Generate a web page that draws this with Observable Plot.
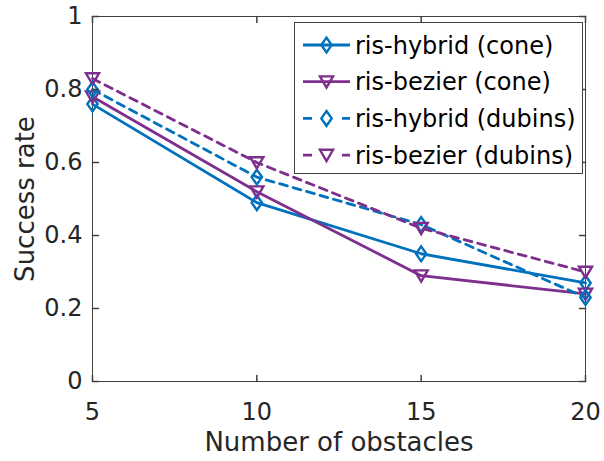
<!DOCTYPE html>
<html><head><meta charset="utf-8">
<script src="https://cdn.jsdelivr.net/npm/d3@7"></script>
<script src="https://cdn.jsdelivr.net/npm/@observablehq/plot@0.6"></script>
<style>
body{margin:0;background:#fff;}
#chart svg{font-family:"DejaVu Sans",sans-serif;overflow:visible;}
</style>
</head><body><div id="chart"></div>
<script>
const obstacles = [5, 10, 15, 20];
const hybridCone = [0.76, 0.49, 0.35, 0.27];
const bezierCone = [0.78, 0.52, 0.29, 0.24];
const hybridDubins = [0.80, 0.56, 0.43, 0.23];
const bezierDubins = [0.83, 0.60, 0.42, 0.30];
const seriesNames = ["ris-hybrid (cone)", "ris-bezier (cone)", "ris-hybrid (dubins)", "ris-bezier (dubins)"];
const seriesValues = [hybridCone, bezierCone, hybridDubins, bezierDubins];
const seriesColors = ["#0072BD", "#7E2F8E", "#0072BD", "#7E2F8E"];
const seriesDash = [null, null, "8,6", "8,6"];
const seriesMarker = ["diamond", "triangleDown", "diamond", "triangleDown"];
const xTicks = [5, 10, 15, 20];
const yTicks = [0, 0.2, 0.4, 0.6, 0.8, 1];
const yTickLabels = ["0", "0.2", "0.4", "0.6", "0.8", "1"];
const xLabel = "Number of obstacles";
const yLabel = "Success rate";

const textColor = "#262626";
const axisColor = "#404040";

// custom marker shapes (MATLAB-like)
const symbols = {
  diamond: {draw(ctx, size) {
    const h = Math.sqrt(size) * 0.95, w = h * 0.7;
    ctx.moveTo(0, -h); ctx.lineTo(w, 0); ctx.lineTo(0, h); ctx.lineTo(-w, 0); ctx.closePath();
  }},
  triangleDown: {draw(ctx, size) {
    const s = Math.sqrt(size) * 0.8;
    ctx.moveTo(-s * 1.05, -s * 0.85); ctx.lineTo(s * 1.05, -s * 0.85); ctx.lineTo(0, s * 0.95); ctx.closePath();
  }}
};

const rows = [];
seriesNames.forEach((name, si) => {
  obstacles.forEach((x, i) => rows.push({series: name, si, x, y: seriesValues[si][i]}));
});

const tickShape = {draw(ctx, l) { ctx.moveTo(0, 0); ctx.lineTo(0, -l); }};
const lineW = 2.8, markW = 2.4, markR = 4.4;

const marks = [];
seriesNames.forEach((name, si) => {
  const d = rows.filter(r => r.si === si);
  marks.push(Plot.line(d, {x: "x", y: "y", stroke: seriesColors[si], strokeWidth: lineW,
    strokeDasharray: seriesDash[si], strokeLinejoin: "round"}));
  marks.push(Plot.dot(d, {x: "x", y: "y", r: markR, symbol: symbols[seriesMarker[si]],
    stroke: seriesColors[si], strokeWidth: markW, fill: "none"}));
});

const chart = Plot.plot({
  width: 604, height: 461,
  marginLeft: 92, marginRight: 19, marginTop: 16, marginBottom: 80,
  style: {fontFamily: "DejaVu Sans", color: textColor, background: "#fff"},
  x: {domain: [5, 20]},
  y: {domain: [0, 1]},
  marks: [
    Plot.frame({stroke: axisColor, strokeWidth: 1}),
    ...marks,
    Plot.vector(xTicks, {x: d => d, frameAnchor: "bottom", length: 6, rotate: 0, anchor: "start", shape: tickShape, stroke: axisColor}),
    Plot.vector(xTicks, {x: d => d, frameAnchor: "top", length: 6, rotate: 180, anchor: "start", shape: tickShape, stroke: axisColor}),
    Plot.vector(yTicks, {y: d => d, frameAnchor: "left", length: 6, rotate: 90, anchor: "start", shape: tickShape, stroke: axisColor}),
    Plot.vector(yTicks, {y: d => d, frameAnchor: "right", length: 6, rotate: -90, anchor: "start", shape: tickShape, stroke: axisColor}),
    Plot.axisX({ticks: xTicks, tickSize: 0, tickPadding: 21, fontSize: 24, label: null, tickFormat: d => String(d), fill: textColor}),
    Plot.axisY({ticks: yTicks, tickSize: 0, tickPadding: 10, fontSize: 24, label: null,
      tickFormat: d => yTickLabels[yTicks.indexOf(d)], fill: textColor}),
    Plot.text([xLabel], {text: d => d, frameAnchor: "bottom", textAnchor: "middle", lineAnchor: "top", dy: 51, fontSize: 26, fill: textColor}),
    Plot.text([yLabel], {text: d => d, frameAnchor: "left", textAnchor: "middle", lineAnchor: "top", rotate: -90, dx: -77, fontSize: 26, fill: textColor})
  ]
});
document.getElementById("chart").appendChild(chart);

// legend (inside the axes, top-right, MATLAB style)
const svg = d3.select(chart);
const lg = svg.append("g").attr("class", "legend").attr("text-anchor", "start");
const box = {x: 294.5, y: 22.5, w: 288, h: 151};
lg.append("rect").attr("x", box.x).attr("y", box.y).attr("width", box.w).attr("height", box.h)
  .attr("fill", "#fff").attr("stroke", axisColor).attr("stroke-width", 1);
const rowY0 = 45, rowStep = 36.7, lx0 = 303, lx1 = 350, tx = 355;
seriesNames.forEach((name, si) => {
  const y = rowY0 + si * rowStep;
  lg.append("line").attr("x1", lx0).attr("x2", lx1).attr("y1", y).attr("y2", y)
    .attr("stroke", seriesColors[si]).attr("stroke-width", lineW)
    .attr("stroke-dasharray", seriesDash[si] ? "9,30" : null);
  const sym = d3.symbol().type(symbols[seriesMarker[si]]).size(Math.PI * markR * markR);
  lg.append("path").attr("d", sym()).attr("transform", `translate(${(lx0 + lx1) / 2},${y})`)
    .attr("fill", "none").attr("stroke", seriesColors[si]).attr("stroke-width", markW);
  lg.append("text").attr("x", tx).attr("y", y).attr("dy", "0.36em").attr("text-anchor", "start")
    .attr("font-size", 24).attr("fill", "#000").text(name);
});
</script>
</body></html>
